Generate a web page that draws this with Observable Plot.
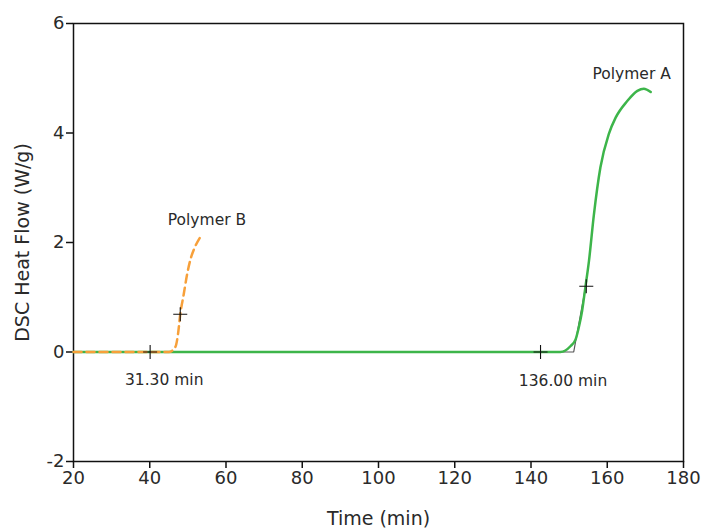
<!DOCTYPE html>
<html>
<head>
<meta charset="utf-8">
<script src="https://cdn.jsdelivr.net/npm/d3@7"></script>
<script src="https://cdn.jsdelivr.net/npm/@observablehq/plot@0.6"></script>
<style>
  html, body { margin: 0; padding: 0; background: #fff; }
  #chart svg { font-family: "DejaVu Sans", sans-serif; }
</style>
</head>
<body>
<div id="chart"></div>
<script>
// Polymer A (solid green)
const polymerATime = [20, 100, 147.7, 150.4, 151.7, 152.5, 153.4, 154.3, 155.2, 156.5, 158.2, 160.4, 162.2, 165.2, 167.9, 169.6, 171.4];
const polymerAFlow = [0, 0, 0, 0.11, 0.23, 0.44, 0.75, 1.2, 1.66, 2.51, 3.37, 3.98, 4.28, 4.58, 4.77, 4.81, 4.75];

// Polymer B (dashed orange)
const polymerBTime = [20, 45.0, 46.7, 47.4, 48.0, 48.9, 49.8, 50.8, 51.8, 53.1];
const polymerBFlow = [0, 0, 0.09, 0.32, 0.69, 1.05, 1.42, 1.72, 1.91, 2.08];

// Onset tangent construction for Polymer A
const tangentTime = [142.5, 151.2, 154.6];
const tangentFlow = [0, 0, 1.3];

// Cross markers
const crossTime = [40.1, 48.0, 142.5, 154.5];
const crossFlow = [0, 0.69, 0, 1.2];

// Annotations
const labelText = ["Polymer B", "Polymer A", "31.30 min", "136.00 min"];
const labelTime = [55.0, 166.4, 43.8, 148.4];
const labelFlow = [2.41, 5.08, -0.52, -0.53];

// Ticks
const xTicks = [20, 40, 60, 80, 100, 120, 140, 160, 180];
const yTicks = [-2, 0, 2, 4, 6];

const toRows = (xs, ys) => xs.map((x, i) => ({x, y: ys[i]}));
const seriesA = toRows(polymerATime, polymerAFlow);
const seriesB = toRows(polymerBTime, polymerBFlow);
const tangent = toRows(tangentTime, tangentFlow);
const crosses = toRows(crossTime, crossFlow);
const labels = labelText.map((t, i) => ({t, x: labelTime[i], y: labelFlow[i]}));

const thinPlus = {
  draw(ctx, size) {
    const r = Math.sqrt(size / Math.PI);
    ctx.moveTo(-r, 0); ctx.lineTo(r, 0);
    ctx.moveTo(0, -r); ctx.lineTo(0, r);
  }
};

const chart = Plot.plot({
  width: 704,
  height: 529,
  marginLeft: 73,
  marginRight: 21,
  marginTop: 23,
  marginBottom: 68,
  style: {fontFamily: "DejaVu Sans, sans-serif", color: "#2a2a2a", background: "#fff"},
  x: {domain: [20, 180]},
  y: {domain: [-2, 6]},
  marks: [
    Plot.axisX({ticks: xTicks, tickSize: 7, tickPadding: 3, fontSize: 18, strokeWidth: 1.5, stroke: "#111",
      label: null, tickFormat: d => String(d)}),
    Plot.axisY({ticks: yTicks, tickSize: 7, tickPadding: 2, fontSize: 18, strokeWidth: 1.5, stroke: "#111",
      label: null, tickFormat: d => String(d)}),
    Plot.frame({stroke: "#111", strokeWidth: 1.5}),
    Plot.text(["Time (min)"], {frameAnchor: "bottom", dy: 57, fontSize: 19, fill: "#2a2a2a", lineAnchor: "middle"}),
    Plot.text(["DSC Heat Flow (W/g)"], {frameAnchor: "left", dx: -51, rotate: -90, textAnchor: "middle", fontSize: 19, fill: "#2a2a2a"}),
    Plot.line(tangent, {x: "x", y: "y", stroke: "#555", strokeWidth: 1.2}),
    Plot.line(seriesA, {x: "x", y: "y", stroke: "#3db54a", strokeWidth: 2.5, curve: "monotone-x"}),
    Plot.line(seriesB, {x: "x", y: "y", stroke: "#f7a03a", strokeWidth: 2.5, strokeDasharray: "8,5", curve: "monotone-x"}),
    Plot.dot(crosses, {x: "x", y: "y", symbol: thinPlus, r: 7, fill: "none", stroke: "#111", strokeWidth: 1.1}),
    Plot.text(labels, {x: "x", y: "y", text: "t", fontSize: 15.5, fill: "#2a2a2a"})
  ]
});
document.getElementById("chart").appendChild(chart);
</script>
</body>
</html>
